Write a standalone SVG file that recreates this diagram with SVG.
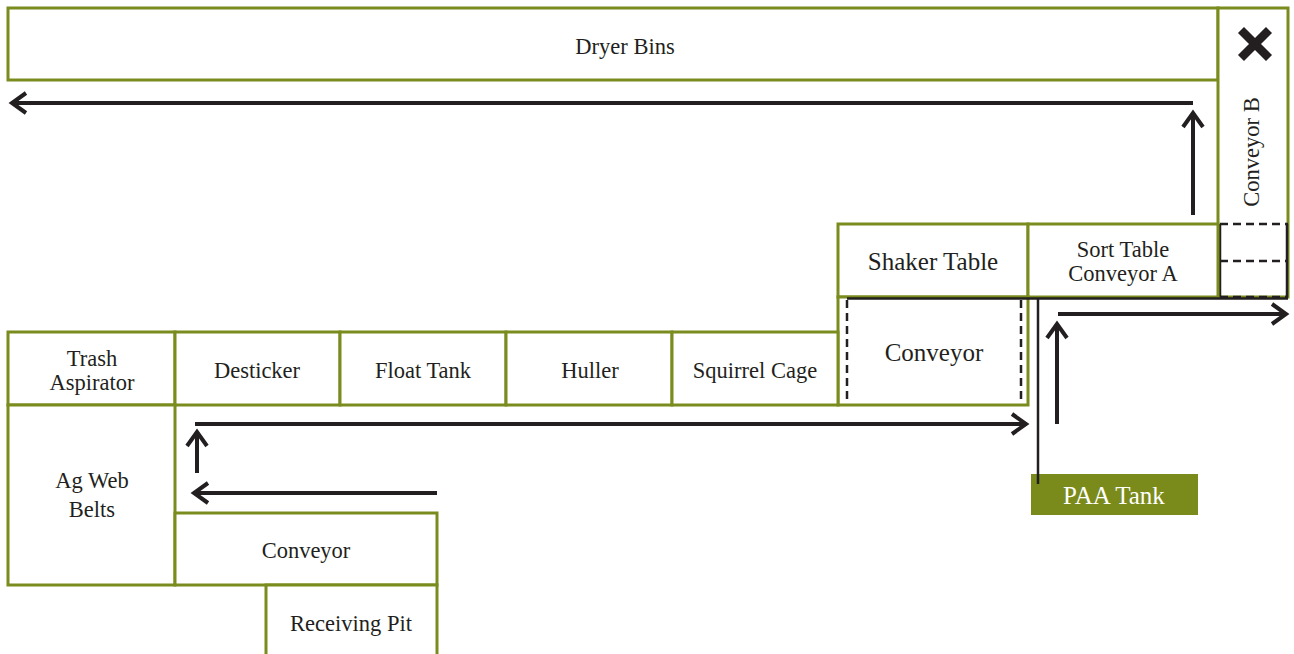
<svg xmlns="http://www.w3.org/2000/svg" width="1294" height="654" viewBox="0 0 1294 654">
  <style>
    .box { fill: #ffffff; stroke: #7a8c1e; stroke-width: 3; }
    .lbl { font-family: "Liberation Serif", "Times New Roman", serif; font-size: 22.5px; fill: #231f20; text-anchor: middle; dominant-baseline: central; }
    .big { font-size: 25px; }
    .flow { fill: none; stroke: #231f20; stroke-width: 4; marker-end: url(#chev); }
    .dash { fill: none; stroke: #231f20; stroke-width: 2.5; stroke-dasharray: 8 5; }
    .solid { fill: none; stroke: #231f20; stroke-width: 2.5; }
  </style>
  <defs>
    <marker id="chev" markerUnits="userSpaceOnUse" markerWidth="30" markerHeight="30" refX="18" refY="12" orient="auto">
      <path d="M4,2 L18,12 L4,22" fill="none" stroke="#231f20" stroke-width="4"/>
    </marker>
  </defs>
  <rect width="1294" height="654" fill="#ffffff"/>

  <g id="dryer-bins">
    <rect class="box" x="8" y="8" width="1210" height="72"/>
    <text class="lbl" x="625" y="46">Dryer Bins</text>
  </g>

  <g id="conveyor-b">
    <rect class="box" x="1218" y="8" width="70" height="289"/>
    <path d="M1244,33 L1266,55 M1266,33 L1244,55" stroke="#231f20" stroke-width="8.5" stroke-linecap="square"/>
    <text class="lbl" x="1251" y="152" transform="rotate(-90 1251 152)">Conveyor B</text>
    <path class="dash" d="M1220,224 H1288 M1220,261 H1288 M1220,297 H1288"/>
    <path class="solid" d="M1220,224 V297 M1287,224 V297"/>
  </g>

  <g id="shaker-table">
    <rect class="box" x="838" y="224" width="190" height="73"/>
    <text class="lbl big" x="933" y="261">Shaker Table</text>
  </g>

  <g id="sort-table">
    <rect class="box" x="1028" y="224" width="190" height="73"/>
    <text class="lbl" x="1123" y="249">Sort Table</text>
    <text class="lbl" x="1123" y="273">Conveyor A</text>
  </g>

  <g id="conveyor-mid">
    <rect class="box" x="838" y="297" width="190" height="108"/>
    <path class="dash" d="M847,300 V400 M1021,300 V400"/>
    <text class="lbl big" x="934" y="352">Conveyor</text>
  </g>

  <g id="trash-aspirator">
    <rect class="box" x="8" y="332" width="167" height="73"/>
    <text class="lbl" x="92" y="358">Trash</text>
    <text class="lbl" x="92" y="382">Aspirator</text>
  </g>
  <g id="desticker">
    <rect class="box" x="175" y="332" width="165" height="73"/>
    <text class="lbl" x="257" y="370">Desticker</text>
  </g>
  <g id="float-tank">
    <rect class="box" x="340" y="332" width="166" height="73"/>
    <text class="lbl" x="423" y="370">Float Tank</text>
  </g>
  <g id="huller">
    <rect class="box" x="506" y="332" width="166" height="73"/>
    <text class="lbl" x="590" y="370">Huller</text>
  </g>
  <g id="squirrel-cage">
    <rect class="box" x="672" y="332" width="166" height="73"/>
    <text class="lbl" x="755" y="370">Squirrel Cage</text>
  </g>

  <g id="ag-web-belts">
    <rect class="box" x="8" y="405" width="167" height="180"/>
    <text class="lbl" x="92" y="480">Ag Web</text>
    <text class="lbl" x="92" y="509">Belts</text>
  </g>

  <g id="conveyor-low">
    <rect class="box" x="175" y="513" width="262" height="72"/>
    <text class="lbl" x="306" y="550">Conveyor</text>
  </g>

  <g id="receiving-pit">
    <rect class="box" x="266" y="585" width="171" height="80"/>
    <text class="lbl" x="351" y="623">Receiving Pit</text>
  </g>

  <g id="paa-tank">
    <rect x="1031" y="474" width="167" height="41" fill="#7a8b1b"/>
    <text class="lbl big" x="1114" y="495" style="fill:#ffffff">PAA Tank</text>
  </g>

  <g id="connectors">
    <path class="flow" d="M1193,103 H12"/>
    <path class="flow" d="M1193,215 V113"/>
    <path class="solid" d="M847,298.5 H1288"/>
    <path class="solid" d="M1038,298 V484"/>
    <path class="flow" d="M1058,314 H1286"/>
    <path class="flow" d="M1057,424 V324"/>
    <path class="flow" d="M195,424 H1026"/>
    <path class="flow" d="M197,473 V432"/>
    <path class="flow" d="M437,493 H194"/>
  </g>
</svg>
